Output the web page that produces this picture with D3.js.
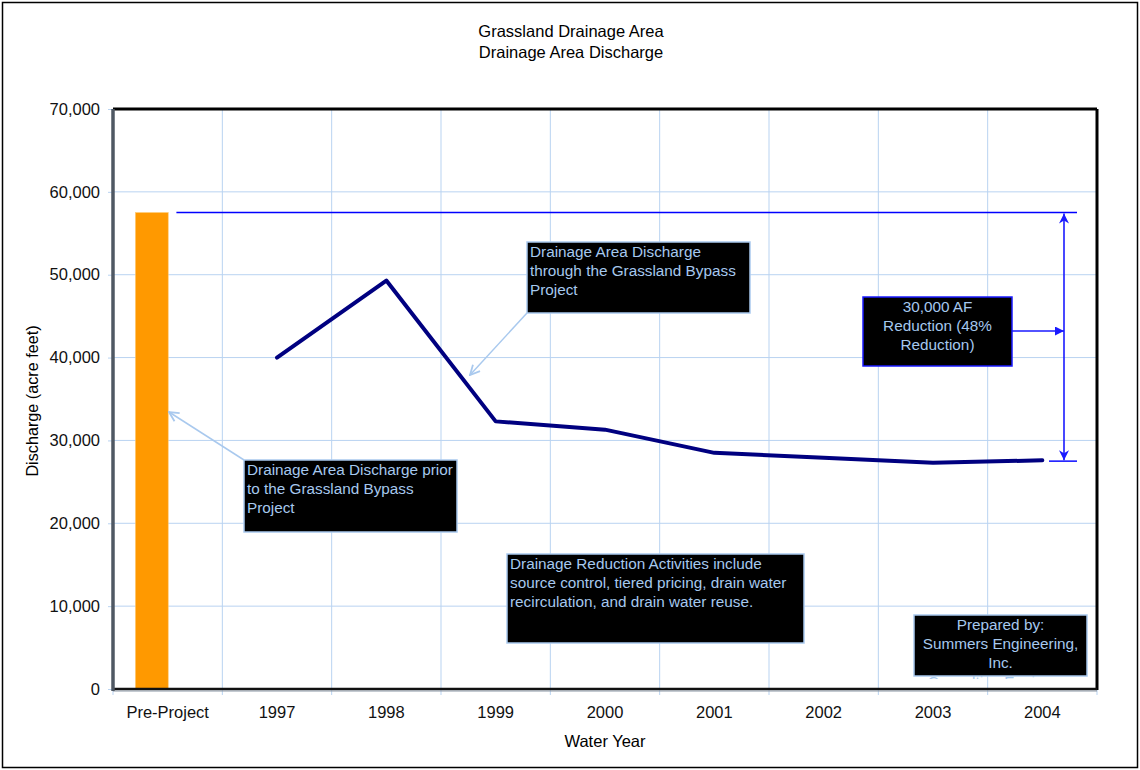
<!DOCTYPE html>
<html>
<head>
<meta charset="utf-8">
<script src="https://cdn.jsdelivr.net/npm/d3@7"></script>
<style>
  body { margin: 0; background: #fff; }
  svg { display: block; font-family: "Liberation Sans", Arial, sans-serif; }
</style>
</head>
<body>
<svg width="1140" height="770"></svg>
<script>
// chart data
const categories = ["Pre-Project", "1997", "1998", "1999", "2000", "2001", "2002", "2003", "2004"];
const preProject = [{ year: "Pre-Project", value: 57500 }];
const lineYears = ["1997", "1998", "1999", "2000", "2001", "2002", "2003", "2004"];
const lineValues = [40000, 49300, 32300, 31300, 28500, 27900, 27300, 27600];
const yTicks = [0, 10000, 20000, 30000, 40000, 50000, 60000, 70000];
const reduction = { top: 57500, bottom: 27500 };

const svg = d3.select("svg");
const width = 1140, height = 770;
const margin = { top: 109, right: 43, bottom: 81, left: 113 };
const plotW = width - margin.left - margin.right,
      plotH = height - margin.top - margin.bottom;

const gridColor = "#b9d3f1";
const noteText = "#a6c8ee";
const labelSize = 16.5;

// outer border
svg.append("rect")
    .attr("x", 2.5).attr("y", 2.5)
    .attr("width", width - 5).attr("height", height - 5)
    .attr("fill", "#fff").attr("stroke", "#000").attr("stroke-width", 1.5);

// titles
svg.append("text").attr("x", 571).attr("y", 37).attr("text-anchor", "middle")
    .attr("font-size", labelSize).text("Grassland Drainage Area");
svg.append("text").attr("x", 571).attr("y", 58).attr("text-anchor", "middle")
    .attr("font-size", labelSize).text("Drainage Area Discharge");

const x = d3.scaleBand().domain(categories).range([0, plotW]);
const y = d3.scaleLinear().domain([0, 70000]).range([plotH, 0]);

const g = svg.append("g").attr("transform", `translate(${margin.left},${margin.top})`);

// gridlines
g.append("g").selectAll("line").data(yTicks.slice(1, -1)).join("line")
    .attr("x1", 0).attr("x2", plotW)
    .attr("y1", d => y(d)).attr("y2", d => y(d))
    .attr("stroke", gridColor).attr("stroke-width", 1);
g.append("g").selectAll("line").data(categories.slice(1)).join("line")
    .attr("x1", d => x(d)).attr("x2", d => x(d))
    .attr("y1", 0).attr("y2", plotH)
    .attr("stroke", gridColor).attr("stroke-width", 1);

// axes
const yAxis = g.append("g")
    .call(d3.axisLeft(y).tickValues(yTicks).tickFormat(d3.format(",")).tickSize(5).tickPadding(8));
yAxis.select(".domain").remove();
yAxis.selectAll(".tick line").attr("stroke", gridColor);
yAxis.selectAll(".tick text").attr("font-size", labelSize).attr("fill", "#111")
    .attr("font-family", "Liberation Sans, Arial, sans-serif");

const xAxis = g.append("g").attr("transform", `translate(0,${plotH})`)
    .call(d3.axisBottom(x).tickSize(0).tickPadding(17));
xAxis.select(".domain").remove();
xAxis.selectAll(".tick text").attr("font-size", labelSize).attr("fill", "#111")
    .attr("font-family", "Liberation Sans, Arial, sans-serif");
// category boundary ticks
g.append("g").selectAll("line").data(categories.concat(["end"])).join("line")
    .attr("x1", (d, i) => i * x.bandwidth()).attr("x2", (d, i) => i * x.bandwidth())
    .attr("y1", plotH).attr("y2", plotH + 6)
    .attr("stroke", gridColor);

// axis titles
svg.append("text").attr("x", 605).attr("y", 747).attr("text-anchor", "middle")
    .attr("font-size", labelSize).text("Water Year");
svg.append("text").attr("transform", "translate(38,401) rotate(-90)")
    .attr("text-anchor", "middle").attr("font-size", 16.2).text("Discharge (acre feet)");

// pre-project bar
g.selectAll(".bar").data(preProject).join("rect").attr("class", "bar")
    .attr("x", d => x(d.year) + x.bandwidth() * 0.205)
    .attr("width", x.bandwidth() * 0.30)
    .attr("y", d => y(d.value))
    .attr("height", d => plotH - y(d.value))
    .attr("fill", "#ff9900").attr("stroke", "#ffc870").attr("stroke-width", 0.6);

// plot frame
g.append("line").attr("x1", 0).attr("x2", plotW).attr("y1", 0).attr("y2", 0)
    .attr("stroke", "#000").attr("stroke-width", 3);
g.append("line").attr("x1", plotW).attr("x2", plotW).attr("y1", 0).attr("y2", plotH + 1)
    .attr("stroke", "#000").attr("stroke-width", 3);
g.append("line").attr("x1", 0).attr("x2", plotW).attr("y1", plotH).attr("y2", plotH)
    .attr("stroke", "#111").attr("stroke-width", 2.5);
g.append("line").attr("x1", 0).attr("x2", plotW).attr("y1", plotH + 2).attr("y2", plotH + 2)
    .attr("stroke", "#8a96a4").attr("stroke-width", 1);
g.append("line").attr("x1", 0).attr("x2", 0).attr("y1", 0).attr("y2", plotH + 2)
    .attr("stroke", "#4f5863").attr("stroke-width", 3.5);

// discharge line
const lineData = lineYears.map((yr, i) => ({ year: yr, value: lineValues[i] }));
const line = d3.line().x(d => x(d.year) + x.bandwidth() / 2).y(d => y(d.value));
g.append("path").datum(lineData)
    .attr("d", line).attr("fill", "none")
    .attr("stroke", "#000080").attr("stroke-width", 4)
    .attr("stroke-linejoin", "round").attr("stroke-linecap", "round");

// markers
const defs = svg.append("defs");
defs.append("marker").attr("id", "openArrow")
    .attr("viewBox", "0 0 10 10").attr("refX", 9).attr("refY", 5)
    .attr("markerWidth", 12).attr("markerHeight", 12).attr("markerUnits", "userSpaceOnUse")
    .attr("orient", "auto-start-reverse")
    .append("path").attr("d", "M1,1 L9,5 L1,9").attr("fill", "none")
    .attr("stroke", "#a9c9ee").attr("stroke-width", 1.5);
defs.append("marker").attr("id", "stealth")
    .attr("viewBox", "0 0 10 10").attr("refX", 10).attr("refY", 5)
    .attr("markerWidth", 14).attr("markerHeight", 10).attr("markerUnits", "userSpaceOnUse")
    .attr("orient", "auto-start-reverse")
    .append("path").attr("d", "M0,0 L10,5 L0,10 L3,5 Z").attr("fill", "#1a1aff");
defs.append("marker").attr("id", "tri")
    .attr("viewBox", "0 0 10 10").attr("refX", 10).attr("refY", 5)
    .attr("markerWidth", 11).attr("markerHeight", 9).attr("markerUnits", "userSpaceOnUse")
    .attr("orient", "auto")
    .append("path").attr("d", "M0,0 L10,5 L0,10 Z").attr("fill", "#1a1aff");

// reduction lines
const preX = x("Pre-Project") + x.bandwidth() * 0.58;
const redX = plotW - 33;
g.append("line").attr("x1", preX).attr("x2", plotW - 20)
    .attr("y1", y(reduction.top)).attr("y2", y(reduction.top))
    .attr("stroke", "#0000ff").attr("stroke-width", 1.6);
g.append("line").attr("x1", plotW - 48).attr("x2", plotW - 20)
    .attr("y1", y(reduction.bottom)).attr("y2", y(reduction.bottom))
    .attr("stroke", "#1a1aff").attr("stroke-width", 1.6);
g.append("line").attr("x1", redX).attr("x2", redX)
    .attr("y1", y(reduction.top) + 1).attr("y2", y(reduction.bottom) - 1)
    .attr("stroke", "#1a1aff").attr("stroke-width", 1.6)
    .attr("marker-start", "url(#stealth)").attr("marker-end", "url(#stealth)");

// callout arrows
svg.append("line").attr("x1", 244).attr("y1", 460).attr("x2", 169).attr("y2", 412)
    .attr("stroke", "#a9c9ee").attr("stroke-width", 1.5).attr("marker-end", "url(#openArrow)");
svg.append("line").attr("x1", 527).attr("y1", 313).attr("x2", 470).attr("y2", 375)
    .attr("stroke", "#a9c9ee").attr("stroke-width", 1.5).attr("marker-end", "url(#openArrow)");
svg.append("line").attr("x1", 1012).attr("y1", 331).attr("x2", margin.left + redX).attr("y2", 331)
    .attr("stroke", "#1a1aff").attr("stroke-width", 1.6).attr("marker-end", "url(#tri)");

// text boxes
const notes = [
  { x: 244, y: 460, w: 213, h: 72, anchor: "start", border: "#a9c9ee",
    lines: ["Drainage Area Discharge prior", "to the Grassland Bypass", "Project"] },
  { x: 527, y: 242, w: 223, h: 71, anchor: "start", border: "#a9c9ee",
    lines: ["Drainage Area Discharge", "through the Grassland Bypass", "Project"] },
  { x: 507, y: 554, w: 297, h: 89, anchor: "start", border: "#a9c9ee",
    lines: ["Drainage Reduction Activities include", "source control, tiered pricing, drain water", "recirculation, and drain water reuse."] },
  { x: 863, y: 297, w: 149, h: 69, anchor: "middle", border: "#1a1aff",
    lines: ["30,000 AF", "Reduction (48%", "Reduction)"] },
  { x: 914, y: 615, w: 173, h: 61, anchor: "middle", border: "#a9c9ee",
    lines: ["Prepared by:", "Summers Engineering,", "Inc.", "Consulting Engineers"] }
];

notes.forEach((n, i) => {
  defs.append("clipPath").attr("id", "clip" + i)
      .append("rect").attr("x", n.x).attr("y", n.y).attr("width", n.w).attr("height", n.h + 3);
  const box = svg.append("g");
  box.append("rect").attr("x", n.x).attr("y", n.y).attr("width", n.w).attr("height", n.h)
      .attr("fill", "#000").attr("stroke", n.border).attr("stroke-width", 1.5);
  box.append("g").attr("clip-path", `url(#clip${i})`)
      .selectAll("text").data(n.lines).join("text")
      .attr("x", n.anchor === "middle" ? n.x + n.w / 2 : n.x + 3)
      .attr("y", (d, j) => n.y + 15 + j * 19)
      .attr("text-anchor", n.anchor)
      .attr("font-size", 15.3).attr("fill", noteText)
      .text(d => d);
});
</script>
</body>
</html>
